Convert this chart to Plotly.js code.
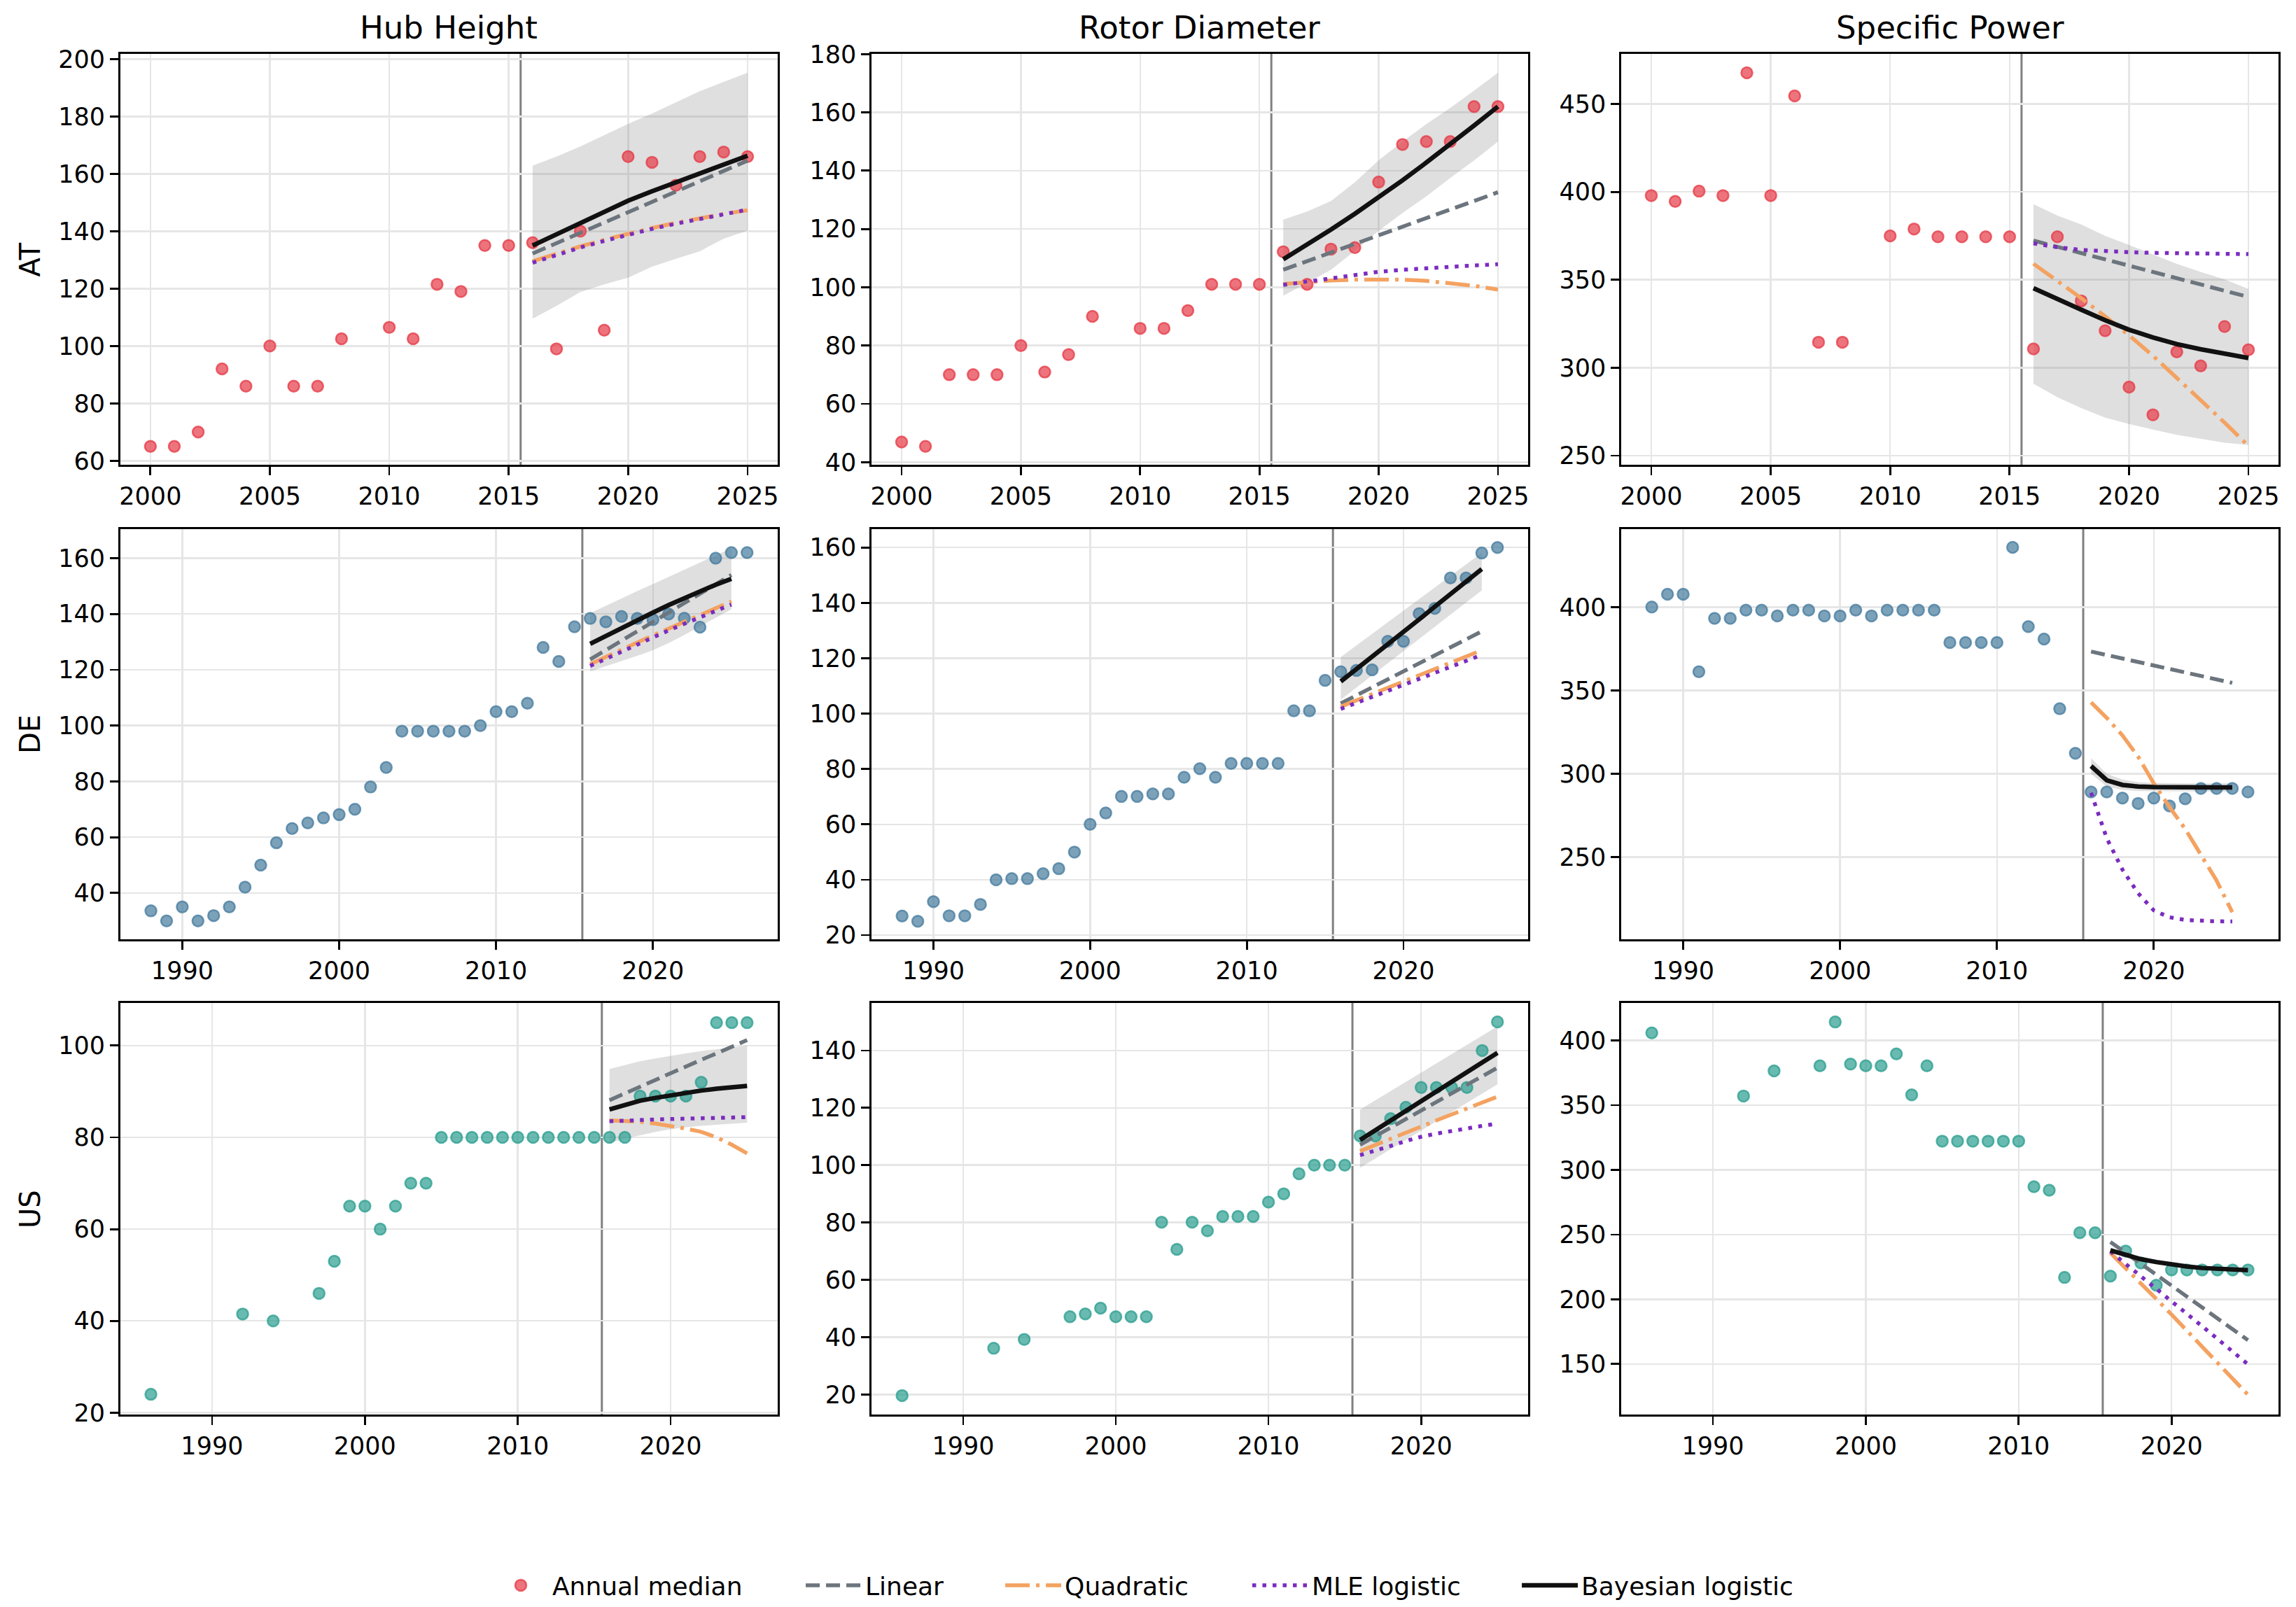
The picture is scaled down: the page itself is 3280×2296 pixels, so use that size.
<!DOCTYPE html>
<html>
<head>
<meta charset="utf-8">
<script src="https://cdn.plot.ly/plotly-3.0.1.min.js"></script>
<style>
  html, body { margin: 0; padding: 0; background: #fff; }
  #chart { width: 3280px; height: 2296px; }
</style>
</head>
<body>
<div id="chart"></div>
<script>
// años de la ventana de ajuste (2016-2025)
const fitYears = [2016, 2017, 2018, 2019, 2020, 2021, 2022, 2023, 2024, 2025];

const countries = ['AT', 'DE', 'US'];
const metrics = ['Hub Height', 'Rotor Diameter', 'Specific Power'];
const legendNames = ['Annual median', 'Linear', 'Quadratic', 'MLE logistic', 'Bayesian logistic'];

// --- AT ---
const atYears = [2000, 2001, 2002, 2003, 2004, 2005, 2006, 2007, 2008, 2010, 2011, 2012, 2013, 2014, 2015,
                 2016, 2017, 2018, 2019, 2020, 2021, 2022, 2023, 2024, 2025];
const atHub = [65, 65, 70, 92, 86, 100, 86, 86, 102.5, 106.5, 102.5, 121.5, 119, 135, 135,
               136, 99, 140, 105.5, 166, 164, 156, 166, 167.6, 166];
const atRotor = [46.9, 45.4, 70, 70, 70, 80, 70.9, 76.9, 90, 85.9, 85.9, 92, 101, 101, 101,
                 112.2, 101, 113.1, 113.6, 136.1, 149, 150, 150, 162, 162];
const atSpec = [397.9, 394.6, 400.4, 397.9, 467.7, 397.9, 454.6, 314.5, 314.5, 375, 378.9, 374.5, 374.5, 374.5, 374.5,
                310.7, 374.5, 338, 321, 289, 273.2, 309, 301, 323.4, 310.2];

const atHubLinear = [132.2, 135.8, 139.4, 143, 146.6, 150.2, 153.8, 157.4, 161, 164.6];
const atHubQuad = [129.5, 132.2, 134.7, 137, 139.2, 141.1, 142.9, 144.5, 146, 147.3];
const atHubMle = [129, 131.8, 134.3, 136.6, 138.8, 140.8, 142.6, 144.3, 145.9, 147.5];
const atHubBayes = [135, 139, 142.9, 146.8, 150.6, 153.9, 157.1, 160.3, 163.3, 166.3];
const atHubLo = [109.5, 114, 118.8, 121.5, 123.8, 127.6, 130.4, 133, 137.4, 140.2];
const atHubHi = [162.8, 166, 169.5, 173.5, 177.4, 181, 185, 188.8, 192, 195.2];

const atRotorLinear = [106, 109, 112, 114.9, 117.8, 120.8, 123.7, 126.7, 129.6, 132.6];
const atRotorQuad = [101.1, 101.8, 102.3, 102.6, 102.7, 102.6, 102.2, 101.5, 100.5, 99.2];
const atRotorMle = [100.8, 102, 103.2, 104.3, 105.3, 106, 106.6, 107.1, 107.5, 107.9];
const atRotorBayes = [109.6, 114.6, 119.8, 125.2, 130.8, 136.7, 142.8, 149, 155.5, 162];
const atRotorLo = [97.1, 101.5, 106, 112.5, 119.4, 125.5, 131.2, 137.5, 143.5, 150];
const atRotorHi = [123.2, 126, 129.6, 136, 143.6, 150, 156, 161.5, 167.5, 173.6];

const atSpecLinear = [372.3, 368.7, 365.2, 361.6, 358, 354.5, 350.9, 347.3, 343.8, 340.2];
const atSpecQuad = [359.1, 349.5, 339.5, 329.2, 318.4, 306.8, 294.5, 281.5, 268.8, 255.5];
const atSpecMle = [370.7, 368.5, 367, 366.2, 365.7, 365.3, 365, 364.8, 364.7, 364.6];
const atSpecBayes = [345.2, 338.8, 333, 327, 321.6, 317.2, 313.4, 310.5, 308, 305.5];
const atSpecLo = [290.9, 283.2, 277, 271.6, 268, 264.8, 261.8, 259.5, 257.3, 256];
const atSpecHi = [393, 386.5, 381.4, 375, 369.8, 364.5, 359, 354.5, 350.2, 344.8];

// --- DE ---
const deYears = [1988, 1989, 1990, 1991, 1992, 1993, 1994, 1995, 1996, 1997,
                 1998, 1999, 2000, 2001, 2002, 2003, 2004, 2005, 2006, 2007,
                 2008, 2009, 2010, 2011, 2012, 2013, 2014, 2015, 2016, 2017,
                 2018, 2019, 2020, 2021, 2022, 2023, 2024, 2025, 2026];
const deHub = [33.6, 30, 35, 30, 31.9, 35, 42.1, 50, 58, 63.1,
               65.1, 66.9, 68.1, 70, 78, 85, 98, 98, 98, 98,
               98, 100, 105, 105, 108, 128, 123, 135.4, 138.4, 137.2,
               139.1, 138.4, 138, 140, 138.5, 135.3, 160, 162, 162];
const deRotor = [26.9, 25, 32.1, 27, 27, 31.1, 40, 40.4, 40.4, 42.2,
                 44, 50, 60, 64.1, 70.1, 70.1, 71, 71, 77, 80.1,
                 77, 82, 82, 82, 82, 101, 101, 112, 115.1, 115.6,
                 115.8, 126.1, 126.1, 136.1, 138, 149, 149, 158, 160];
const deSpec = [400, 407.7, 407.7, 361.2, 393.2, 393.2, 398.1, 398.1, 394.7, 398.1,
                398.1, 394.7, 394.7, 398.1, 394.7, 398.1, 398.1, 398.1, 398.1, 378.7,
                378.7, 378.7, 378.7, 435.8, 388.3, 380.8, 339, 312.3, 289.1, 289.1,
                285.4, 282.2, 285.4, 280.7, 285, 291.2, 291.2, 291.2, 289.1];

const deHubLinear = [123.7, 127.1, 130.4, 133.8, 137.2, 140.5, 143.9, 147.3, 150.6, 154];
const deHubQuad = [122, 124.7, 127.3, 129.8, 132.3, 134.8, 137.3, 139.7, 142.1, 144.5];
const deHubMle = [121.4, 124, 126.6, 129.1, 131.6, 134.1, 136.5, 138.8, 141.1, 143.4];
const deHubBayes = [129.3, 132.2, 135, 137.8, 140.5, 143.2, 145.7, 148.2, 150.5, 152.6];
const deHubLo = [119.4, 121.2, 123.1, 125, 127, 129.6, 132.5, 135.5, 138.6, 141.7];
const deHubHi = [140.3, 143, 145.6, 148.2, 150.7, 153.3, 155.9, 158.4, 161, 163.6];

const deRotorLinear = [103.7, 106.6, 109.5, 112.4, 115.3, 118.1, 121, 123.9, 126.8, 129.7];
const deRotorQuad = [102.5, 104.8, 107, 109.3, 111.6, 113.8, 116.1, 118.4, 120.6, 122.9];
const deRotorMle = [101.7, 103.9, 106.1, 108.2, 110.4, 112.5, 114.6, 116.8, 119, 121.2];
const deRotorBayes = [111.6, 116, 120.5, 125, 129.5, 134, 138.6, 143.2, 147.7, 152.2];
const deRotorLo = [105, 109.4, 113.8, 118.2, 122.6, 127, 131.3, 135.7, 140.1, 144.5];
const deRotorHi = [120.4, 124.6, 128.8, 133, 137.2, 141.4, 145.5, 149.7, 153.9, 158.1];

const deSpecLinear = [373.3, 371.2, 369.1, 367, 364.9, 362.8, 360.7, 358.6, 356.6, 354.5];
const deSpecQuad = [342.8, 333.5, 323, 310.2, 294.2, 280, 266.9, 251.5, 235.9, 217];
const deSpecMle = [288.6, 261.3, 242.5, 228.3, 218, 213.9, 212.3, 211.7, 211.5, 211.4];
const deSpecBayes = [304.6, 296.1, 293.3, 292.3, 292, 291.8, 291.8, 291.8, 291.8, 291.8];
const deSpecLo = [300, 292.3, 290.3, 289.6, 289.4, 289.3, 289.3, 289.3, 289.3, 289.3];
const deSpecHi = [309.3, 300, 296.5, 295, 294.5, 294.2, 294.2, 294.2, 294.2, 294.2];

// --- US ---
const usYears = [1986, 1992, 1994, 1997, 1998, 1999, 2000, 2001, 2002, 2003, 2004,
                 2005, 2006, 2007, 2008, 2009, 2010, 2011, 2012, 2013, 2014, 2015,
                 2016, 2017, 2018, 2019, 2020, 2021, 2022, 2023, 2024, 2025];
const usHub = [24, 41.5, 40, 46, 53, 65, 65, 60, 65, 70, 70,
               80, 80, 80, 80, 80, 80, 80, 80, 80, 80, 80,
               80, 80, 89, 89, 89, 89, 92, 105, 105, 105];
const usRotor = [19.6, 36.1, 39.2, 47.1, 48.1, 50.1, 47.1, 47.1, 47.1, 80.1, 70.6,
                 80.1, 77.1, 82.1, 82.1, 82.1, 87.1, 90, 97, 100, 100, 100,
                 110.2, 110.2, 116.2, 120.2, 127.1, 127.1, 127.1, 127.1, 140, 150];
const usSpec = [405.8, 357.1, 376.5, 380.4, 414.3, 381.8, 380.4, 380.4, 389.6, 358, 380.4,
                322.2, 322.2, 322.2, 322.2, 322.2, 322.2, 287, 284.3, 216.9, 251.4, 251.4,
                217.9, 237.3, 228.1, 210.9, 222.7, 222.7, 222.7, 222.7, 222.7, 222.7];

const usHubLinear = [88.1, 89.6, 91, 92.5, 93.9, 95.4, 96.9, 98.3, 99.8, 101.2];
const usHubQuad = [83.7, 83.6, 83.4, 83, 82.5, 81.9, 81.2, 80, 78.4, 76.5];
const usHubMle = [83.5, 83.7, 83.8, 83.9, 84, 84.1, 84.2, 84.3, 84.3, 84.4];
const usHubBayes = [86.1, 87.1, 88, 88.6, 89.2, 89.7, 90.2, 90.6, 90.9, 91.2];
const usHubLo = [78.8, 79.7, 80.5, 81.2, 81.8, 82.2, 82.5, 82.8, 83, 83.2];
const usHubHi = [94.9, 95.8, 96.6, 97.2, 97.8, 98.3, 98.8, 99.2, 99.6, 100];

const usRotorLinear = [107.1, 110.1, 113.1, 116.1, 119.1, 122, 125, 128, 131, 134];
const usRotorQuad = [104.9, 107.1, 109.3, 111.4, 113.6, 115.6, 117.7, 119.8, 121.8, 123.9];
const usRotorMle = [103.5, 105, 106.7, 108.4, 109.9, 111, 112, 112.9, 113.7, 114.5];
const usRotorBayes = [108.8, 112.2, 115.6, 118.9, 122.3, 125.7, 129, 132.4, 135.8, 139.2];
const usRotorLo = [99.1, 102.3, 105.6, 108.8, 112.1, 115.3, 118.5, 121.8, 125, 128.2];
const usRotorHi = [119.4, 122.6, 125.8, 129.1, 132.3, 135.5, 138.8, 142, 145.2, 148.4];

const usSpecLinear = [244.3, 235.9, 227.4, 219, 210.6, 202.1, 193.7, 185.3, 176.8, 168.4];
const usSpecQuad = [235.8, 224.2, 212.3, 200.3, 188.2, 176, 163.6, 151.2, 138.7, 126.2];
const usSpecMle = [237, 227.5, 218, 208.5, 198.8, 189, 179.2, 169.4, 159.6, 149.8];
const usSpecBayes = [237.8, 234.2, 231, 228.8, 226.9, 225.4, 224.2, 223.4, 222.9, 222.5];
const usSpecLo = [235.8, 232.4, 229.4, 227.3, 225.5, 224.1, 223, 222.2, 221.7, 221.3];
const usSpecHi = [239.8, 236, 232.6, 230.3, 228.3, 226.7, 225.4, 224.6, 224.1, 223.7];

// colores por país
const countryColors = ['230,57,70', '69,123,157', '42,157,143'];

const panels = [
  { x: atYears, y: atHub, fit: [atHubLinear, atHubQuad, atHubMle, atHubBayes], lo: atHubLo, hi: atHubHi, yr: [58.6, 201.8], dt: 20 },
  { x: atYears, y: atRotor, fit: [atRotorLinear, atRotorQuad, atRotorMle, atRotorBayes], lo: atRotorLo, hi: atRotorHi, yr: [39.1, 180.1], dt: 20 },
  { x: atYears, y: atSpec, fit: [atSpecLinear, atSpecQuad, atSpecMle, atSpecBayes], lo: atSpecLo, hi: atSpecHi, yr: [244.8, 478.5], dt: 50 },
  { x: deYears, y: deHub, fit: [deHubLinear, deHubQuad, deHubMle, deHubBayes], lo: deHubLo, hi: deHubHi, yr: [23.4, 170.4], dt: 20 },
  { x: deYears, y: deRotor, fit: [deRotorLinear, deRotorQuad, deRotorMle, deRotorBayes], lo: deRotorLo, hi: deRotorHi, yr: [18.5, 166.6], dt: 20 },
  { x: deYears, y: deSpec, fit: [deSpecLinear, deSpecQuad, deSpecMle, deSpecBayes], lo: deSpecLo, hi: deSpecHi, yr: [200.7, 446.7], dt: 50 },
  { x: usYears, y: usHub, fit: [usHubLinear, usHubQuad, usHubMle, usHubBayes], lo: usHubLo, hi: usHubHi, yr: [19.6, 109.3], dt: 20 },
  { x: usYears, y: usRotor, fit: [usRotorLinear, usRotorQuad, usRotorMle, usRotorBayes], lo: usRotorLo, hi: usRotorHi, yr: [13, 156.6], dt: 20 },
  { x: usYears, y: usSpec, fit: [usSpecLinear, usSpecQuad, usSpecMle, usSpecBayes], lo: usSpecLo, hi: usSpecHi, yr: [111, 429], dt: 50 }
];

const rowXRange = [[1998.74, 2026.26], [1986.05, 2027.95], [1984.0, 2027.0]];
const rowXDtick = [5, 10, 10];

// estilos de las curvas de ajuste
const fitStyles = [
  { color: '#6c757d', dash: '20px,9px', width: 5.5 },
  { color: '#f4a261', dash: '35px,9px,5px,9px', width: 5.5 },
  { color: '#7b2cbf', dash: '5.5px,9px', width: 5.5 },
  { color: '#111111', dash: 'solid', width: 6.5 }
];

const colDomains = [[0.0524, 0.3387], [0.3796, 0.6655], [0.7061, 0.9924]];
const rowDomains = [[0.7108, 0.9665], [0.4155, 0.6707], [0.1198, 0.3759]];
// una leyenda por entrada, para reproducir la separación de matplotlib
const legendX = [0.2131, 0.3494, 0.4363, 0.5439, 0.6613];
const legendIds = ['legend', 'legend2', 'legend3', 'legend4', 'legend5'];

const FONT = 'DejaVu Sans, sans-serif';

let traces = [];
let layoutAxes = {};
let shapes = [];
let annotations = [];

panels.forEach((p, i) => {
  const row = Math.floor(i / 3), col = i % 3;
  const s = i === 0 ? '' : (i + 1);
  const xa = 'x' + s, ya = 'y' + s;
  const rgb = countryColors[row];
  const first = i === 0;

  // banda de credibilidad
  traces.push({
    x: fitYears.concat(fitYears.slice().reverse()),
    y: p.hi.concat(p.lo.slice().reverse()),
    type: 'scatter', mode: 'lines', fill: 'toself',
    fillcolor: 'rgba(128,128,128,0.25)', line: { width: 0 },
    xaxis: xa, yaxis: ya, showlegend: false, hoverinfo: 'skip'
  });

  traces.push({
    x: p.x, y: p.y, type: 'scatter', mode: 'markers',
    marker: { size: 16, color: 'rgba(' + rgb + ',0.7)', line: { color: 'rgba(' + rgb + ',0.75)', width: 2.5 } },
    xaxis: xa, yaxis: ya, name: legendNames[0], showlegend: first, legend: legendIds[0]
  });

  p.fit.forEach((vals, k) => {
    traces.push({
      x: fitYears, y: vals, type: 'scatter', mode: 'lines',
      line: { color: fitStyles[k].color, dash: fitStyles[k].dash, width: fitStyles[k].width },
      xaxis: xa, yaxis: ya, name: legendNames[k + 1], showlegend: first, legend: legendIds[k + 1]
    });
  });

  const axisBase = {
    showgrid: true, gridcolor: '#e6e6e6', gridwidth: 2.5, zeroline: false,
    showline: true, mirror: true, linecolor: '#000', linewidth: 2.8,
    ticks: 'outside', ticklen: 12, tickwidth: 2.8, tickcolor: '#000',
    tickfont: { family: FONT, size: 35, color: '#000' }
  };

  layoutAxes['xaxis' + s] = Object.assign({
    domain: colDomains[col], anchor: ya,
    range: rowXRange[row], dtick: rowXDtick[row], tick0: 2000
  }, axisBase);
  layoutAxes['yaxis' + s] = Object.assign({
    domain: rowDomains[row], anchor: xa,
    range: p.yr, dtick: p.dt, tick0: 0
  }, axisBase);

  shapes.push({
    type: 'line', xref: xa, yref: ya + ' domain', x0: 2015.5, x1: 2015.5, y0: 0, y1: 1,
    line: { color: '#808080', width: 3 }, layer: 'below'
  });
});

metrics.forEach((m, c) => {
  annotations.push({
    text: m, xref: 'paper', yref: 'paper',
    x: (colDomains[c][0] + colDomains[c][1]) / 2, y: 0.9826,
    xanchor: 'center', yanchor: 'middle', showarrow: false,
    font: { family: FONT, size: 45, color: '#000' }
  });
});

countries.forEach((c, r) => {
  annotations.push({
    text: c, xref: 'paper', yref: 'paper',
    x: 0.0131, y: (rowDomains[r][0] + rowDomains[r][1]) / 2,
    xanchor: 'center', yanchor: 'middle', textangle: -90, showarrow: false,
    font: { family: FONT, size: 40, color: '#000' }
  });
});

const layout = {
  width: 3280, height: 2296,
  margin: { t: 0, b: 0, l: 0, r: 0 },
  paper_bgcolor: '#fff', plot_bgcolor: '#fff',
  font: { family: FONT, color: '#000' },
  showlegend: true,
  shapes: shapes,
  annotations: annotations,
  ...layoutAxes
};

legendIds.forEach((id, k) => {
  layout[id] = {
    orientation: 'h', x: legendX[k], xanchor: 'left', y: 0.0135, yanchor: 'middle',
    font: { family: FONT, size: 36, color: '#000' }, itemwidth: 80,
    bgcolor: 'rgba(0,0,0,0)'
  };
});

Plotly.newPlot('chart', traces, layout, { staticPlot: true });
</script>
</body>
</html>
